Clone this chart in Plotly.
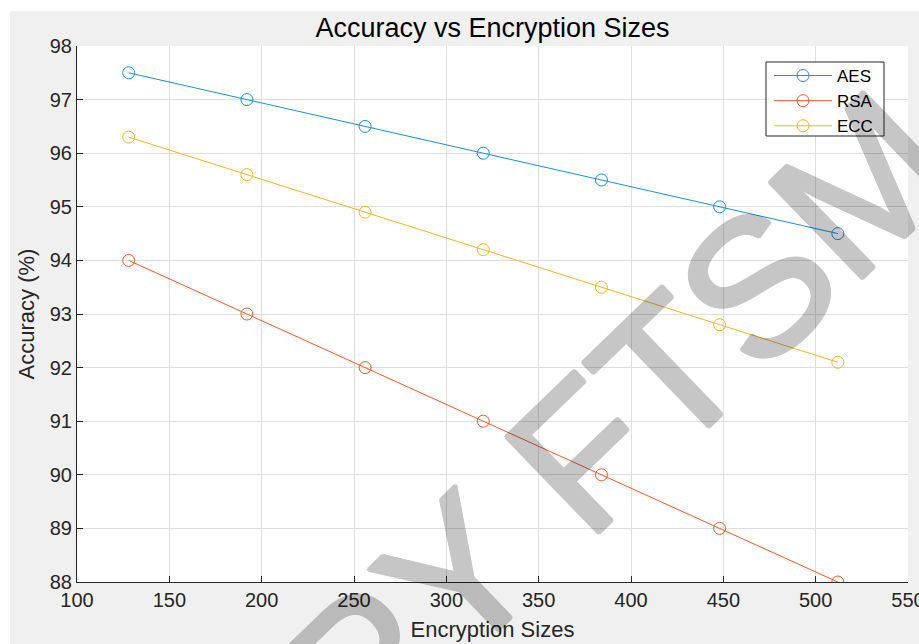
import plotly.graph_objects as go

sizes = [128, 192, 256, 320, 384, 448, 512]
aes = [97.5, 97.0, 96.5, 96.0, 95.5, 95.0, 94.5]
rsa = [94.0, 93.0, 92.0, 91.0, 90.0, 89.0, 88.0]
ecc = [96.3, 95.6, 94.9, 94.2, 93.5, 92.8, 92.1]
series_names = ["AES", "RSA", "ECC"]
series_colors = ["#1a8fd6", "#ee5a2a", "#f2b422"]
x_ticks = [100, 150, 200, 250, 300, 350, 400, 450, 500, 550]
y_ticks = [88, 89, 90, 91, 92, 93, 94, 95, 96, 97, 98]

W, H = 919, 644
L, R, T, B = 77, 11, 46, 62
pw, ph = W - L - R, H - T - B

def px(xp):
    return (xp - L) / pw

def py(yp):
    return 1 - (yp - T) / ph

fig = go.Figure()
for name, vals, col in zip(series_names, [aes, rsa, ecc], series_colors):
    fig.add_trace(go.Scatter(
        x=sizes, y=vals, name=name, mode="lines+markers",
        line=dict(color=col, width=1),
        marker=dict(symbol="circle-open", size=12, color=col, line=dict(width=1, color=col)),
    ))

FONT = "Liberation Sans, Arial, Helvetica, sans-serif"
axis_common = dict(
    showgrid=True, gridcolor="#dedede", gridwidth=1,
    showline=True, linecolor="#262626", linewidth=1,
    ticks="inside", ticklen=6, tickcolor="#262626",
    tickfont=dict(family=FONT, size=20, color="#262626"),
    zeroline=False, mirror=False, ticklabeloverflow="allow", automargin=False,
)

fig.update_layout(
    width=W, height=H,
    margin=dict(l=L, r=R, t=T, b=B, autoexpand=False),
    paper_bgcolor="#f0f0f0", plot_bgcolor="white",
    title=dict(text="Accuracy vs Encryption Sizes", x=(L + pw / 2) / W, xanchor="center",
               y=1 - 28 / H, yanchor="middle",
               font=dict(family=FONT, size=27, color="#000000")),
    xaxis=dict(range=[100, 550], tickvals=x_ticks,
               title=dict(text="Encryption Sizes", font=dict(family=FONT, size=22, color="#262626"), standoff=11),
               **axis_common),
    yaxis=dict(range=[88, 98], tickvals=y_ticks,
               title=dict(text="Accuracy (%)", font=dict(family=FONT, size=22, color="#262626"), standoff=9),
               **axis_common),
    legend=dict(x=px(769), y=py(58), xanchor="left", yanchor="top",
                bgcolor="rgba(0,0,0,0)", borderwidth=0,
                font=dict(family=FONT, size=17, color="#000000"),
                itemwidth=58, tracegroupgap=0),
    showlegend=True,
)

# white strips at the top and left edge of the image
fig.add_shape(type="rect", xref="paper", yref="paper", x0=-L / pw - 0.01, x1=1 + R / pw + 0.01,
              y0=1 + (T - 11) / ph, y1=1 + T / ph + 0.01, fillcolor="white", line_width=0, layer="below")
fig.add_shape(type="rect", xref="paper", yref="paper", x0=-L / pw - 0.01, x1=-(L - 10) / pw,
              y0=-B / ph - 0.01, y1=1 + T / ph + 0.01, fillcolor="white", line_width=0, layer="below")

# legend box
fig.add_shape(type="rect", xref="paper", yref="paper", x0=px(766), x1=px(884), y0=py(136), y1=py(62),
              fillcolor="white", line=dict(color="#262626", width=1), layer="above")

# watermark
shadow = ", ".join(f"{dx}px {dy}px 0 black" for dx, dy in
                   [(2, 0), (-2, 0), (0, 2), (0, -2), (1.4, 1.4), (-1.4, -1.4), (1.4, -1.4), (-1.4, 1.4)])
fig.add_annotation(text="COPY FTSM", xref="paper", yref="paper",
                   x=px(514), y=py(520), xanchor="center", yanchor="middle",
                   textangle=-44, showarrow=False, opacity=0.22,
                   font=dict(family=FONT, size=194, color="black", shadow=shadow))

fig.write_html("out.html")
